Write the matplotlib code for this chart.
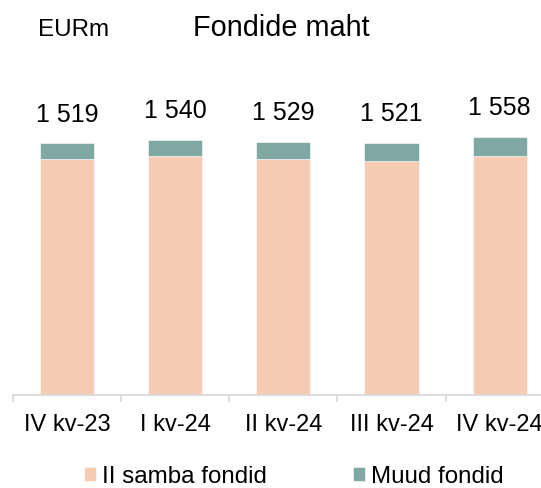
import matplotlib
matplotlib.use("Agg")
import matplotlib.pyplot as plt
import numpy as np

plt.rcParams['font.family'] = ['Liberation Sans', 'DejaVu Sans']

categories = ["IV kv-23", "I kv-24", "II kv-24", "III kv-24", "IV kv-24"]
totals = [1519, 1540, 1529, 1521, 1558]
samba2 = [1426, 1440, 1423, 1410, 1440]
muud = [t - s for t, s in zip(totals, samba2)]
total_labels = ["1 519", "1 540", "1 529", "1 521", "1 558"]

c_peach = "#F5CBB4"
c_teal = "#7EA8A1"
c_axis = "#D9D9D9"

W, H = 541, 489
fig = plt.figure(figsize=(W / 100, H / 100), dpi=100)

ax_left = 12.8 / W
ax_bottom = (H - 395.6) / H
ax_width = 541.0 / W
ax_height = 331.0 / H
ax = fig.add_axes([ax_left, ax_bottom, ax_width, ax_height])

x = np.arange(len(categories))
b1 = ax.bar(x, samba2, width=0.5, color=c_peach, edgecolor="white", linewidth=0.4,
            label="II samba fondid", zorder=2)
b2 = ax.bar(x, muud, width=0.5, bottom=samba2, color=c_teal, edgecolor="white",
            linewidth=0.4, label="Muud fondid", zorder=2)

ax.set_xlim(-0.5, len(categories) - 0.5)
ax.set_ylim(0, 2000)

for xi, t, lab in zip(x, totals, total_labels):
    ax.annotate(lab, (xi, t), xytext=(0, 16.3), textcoords="offset points",
                ha="center", va="baseline", fontsize=18, color="#000000")

for s in ["left", "right", "top"]:
    ax.spines[s].set_visible(False)
ax.spines["bottom"].set_color(c_axis)
ax.spines["bottom"].set_linewidth(1.3)

ax.set_yticks([])
ax.set_xticks(x)
ax.set_xticklabels(categories, fontsize=17, color="#000000")
ax.tick_params(axis="x", which="major", length=0, pad=13)
ax.set_xticks(np.arange(-0.5, len(categories), 1.0), minor=True)
ax.tick_params(axis="x", which="minor", length=5.2, width=1.3, color=c_axis)

fig.text(193 / W, (H - 36.2) / H, "Fondide maht", fontsize=20.8,
         ha="left", va="baseline", color="#000000")
fig.text(38 / W, (H - 36.2) / H, "EURm", fontsize=17.4,
         ha="left", va="baseline", color="#000000")

leg = fig.legend(handles=[b1, b2], labels=["II samba fondid", "Muud fondid"],
                 loc="upper left", bbox_to_anchor=(84 / W, (H - 466.5) / H),
                 ncol=2, frameon=False, fontsize=17.4,
                 handlelength=0.5, handleheight=0.5, handletextpad=0.25,
                 columnspacing=3.55, borderpad=0, borderaxespad=0)

fig.savefig("out.png", dpi=100)
